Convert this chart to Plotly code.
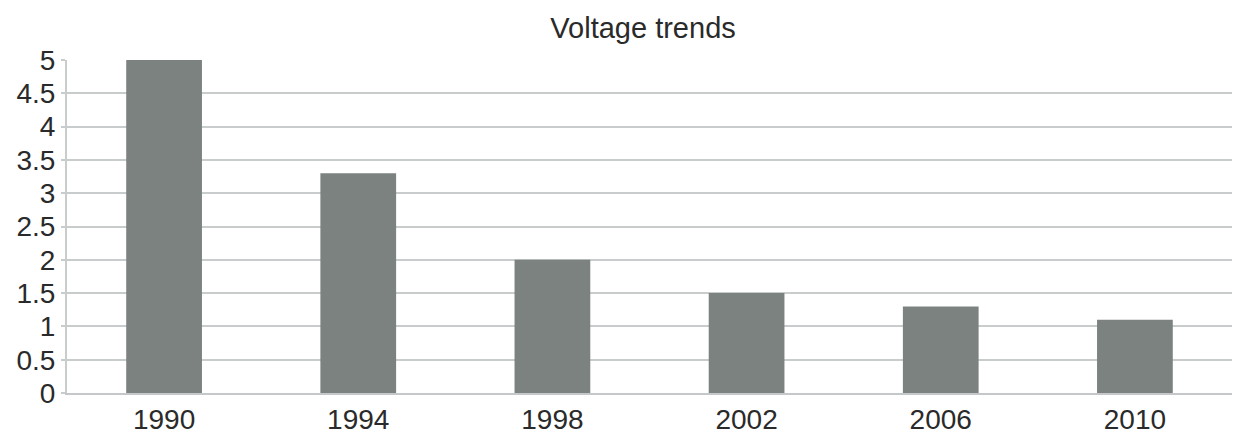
import plotly.graph_objects as go

years = ["1990", "1994", "1998", "2002", "2006", "2010"]
voltage = [5.0, 3.3, 2.0, 1.5, 1.3, 1.1]
y_ticks = [0, 0.5, 1, 1.5, 2, 2.5, 3, 3.5, 4, 4.5, 5]
y_tick_text = ["0", "0.5", "1", "1.5", "2", "2.5", "3", "3.5", "4", "4.5", "5"]

fig = go.Figure(go.Bar(x=years, y=voltage, marker=dict(color="#7b8280", line=dict(width=0))))

fig.update_layout(
    width=1235, height=435,
    margin=dict(l=67, r=3, t=60, b=42),
    paper_bgcolor="white", plot_bgcolor="white",
    bargap=0.61,
    showlegend=False,
    title=dict(text="Voltage trends", x=0.5207, xanchor="center", y=0.935, yanchor="middle",
               font=dict(family="Liberation Sans, Arial", size=29, color="#2a2a2a")),
    font=dict(family="Liberation Sans, Arial", size=28, color="#2a2a2a"),
)
fig.update_xaxes(
    type="category", showgrid=False, showline=True, linecolor="#c4c8c8", linewidth=2,
    ticks="", tickfont=dict(size=28, color="#2a2a2a"), automargin=False,
)
fig.update_yaxes(
    range=[0, 5], tickvals=y_ticks, ticktext=y_tick_text,
    showgrid=True, gridcolor="#c8cccc", gridwidth=2,
    showline=True, linecolor="#c8cccc", linewidth=2,
    ticks="outside", ticklen=4, tickcolor="#c8cccc", tickwidth=2,
    tickfont=dict(size=28, color="#2a2a2a"), zeroline=False, automargin=False,
)

fig.write_html("out.html", config={"displayModeBar": False},
               post_script="document.body.style.margin='0';")
